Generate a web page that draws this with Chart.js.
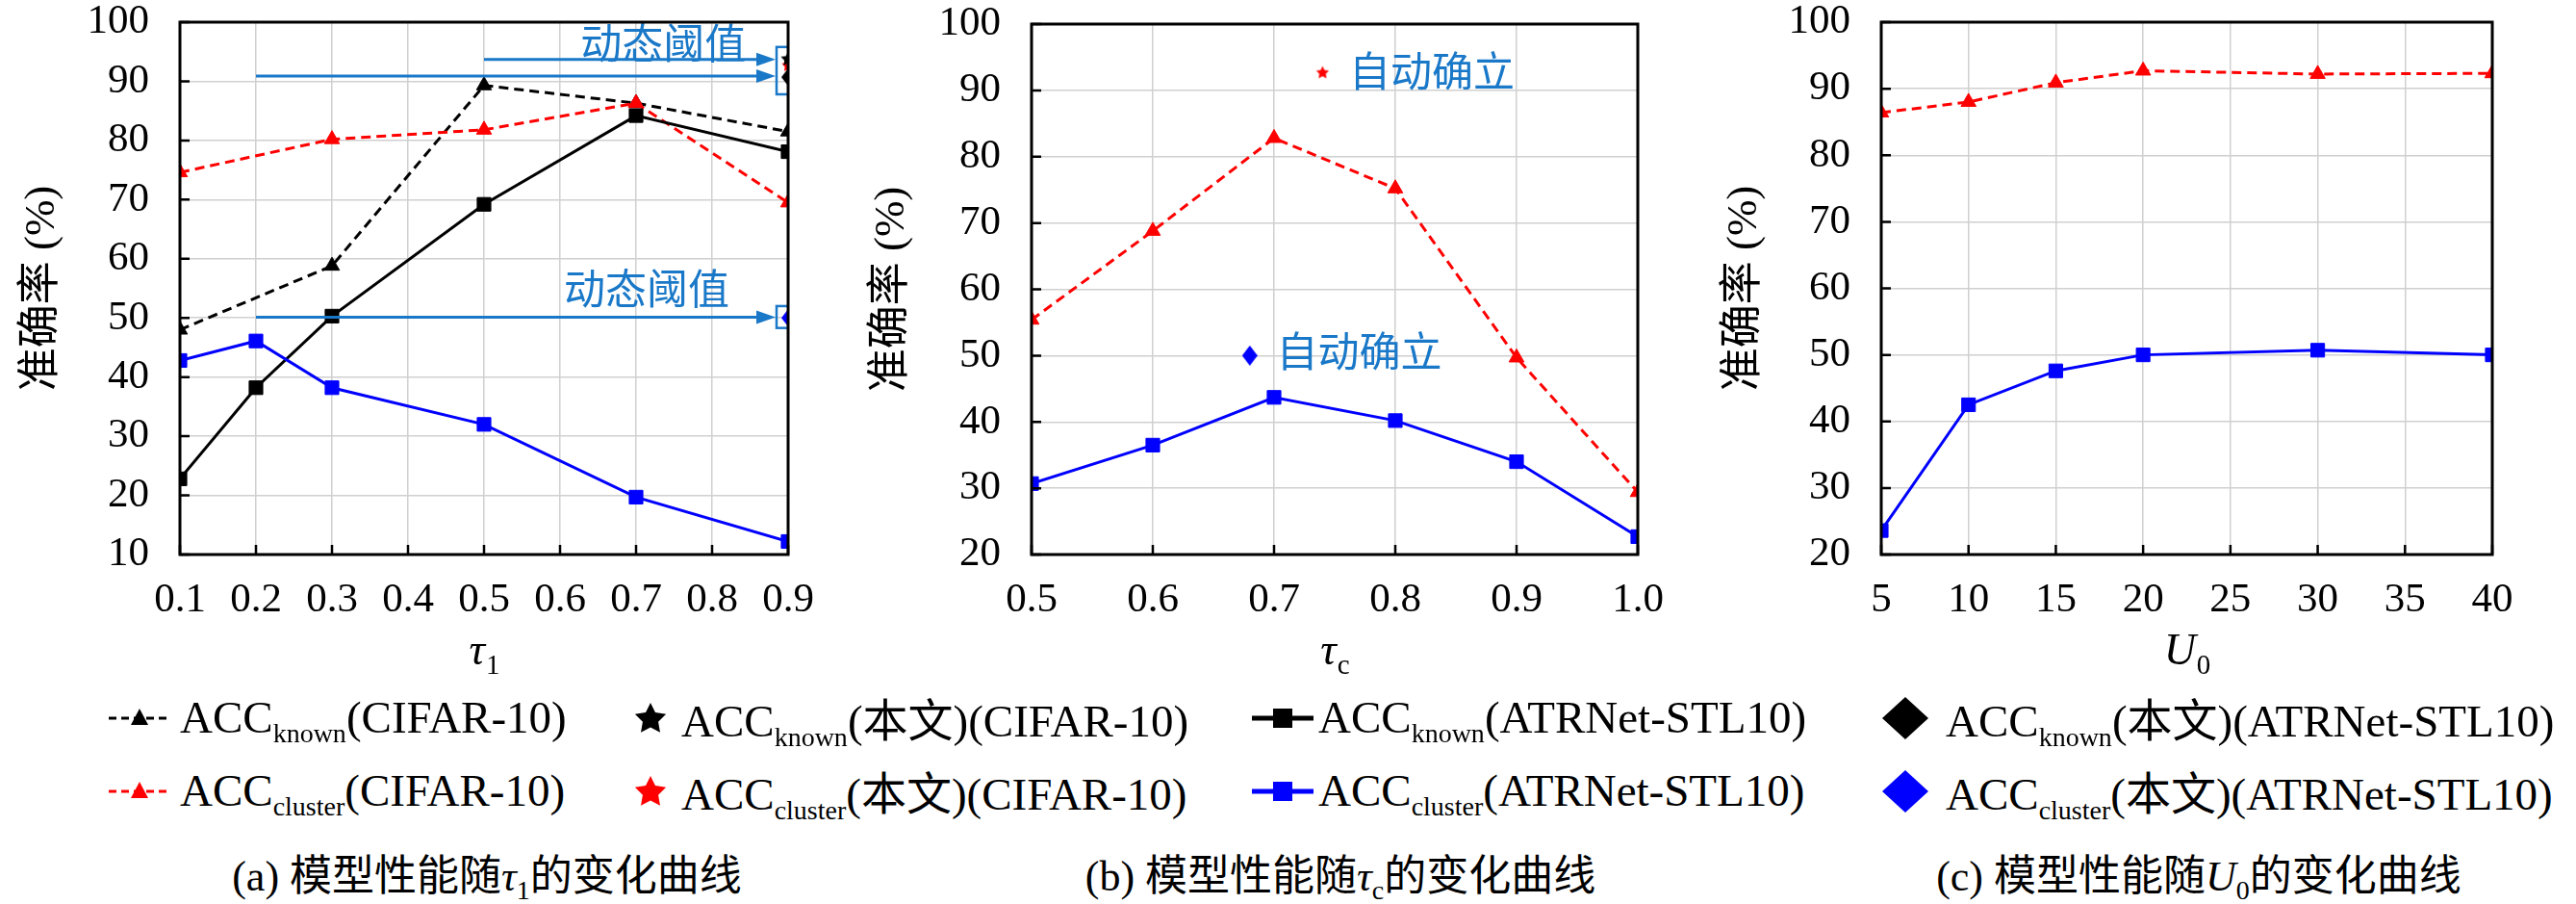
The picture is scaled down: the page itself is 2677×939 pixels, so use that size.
<!DOCTYPE html>
<html>
<head>
<meta charset="utf-8">
<script src="https://cdn.jsdelivr.net/npm/chart.js@4.4.1/dist/chart.umd.min.js"></script>
<style>
  body { margin:0; background:#fff; width:2677px; height:939px; position:relative; overflow:hidden;
         font-family:'Liberation Serif','Noto Sans CJK SC',serif; color:#000; }
  .box { position:absolute; top:0; height:720px; }
  .leg { position:absolute; font-size:47px; line-height:44px; white-space:nowrap; }
  .leg sub { font-size:28px; vertical-align:-10px; line-height:0; }
  .sym { position:absolute; }
  .cap { position:absolute; top:884px; font-size:44px; line-height:44px; white-space:nowrap; transform:translateX(-50%); }
  .cap sub { font-size:28px; vertical-align:-9px; line-height:0; }
  .cjk { font-family:'Noto Sans CJK SC',sans-serif; }
</style>
</head>
<body>
<div class="box" style="left:0;width:880px"><canvas id="chA"></canvas></div>
<div class="box" style="left:883px;width:880px"><canvas id="chB"></canvas></div>
<div class="box" style="left:1769px;width:908px"><canvas id="chC"></canvas></div>

<div id="legend"></div>

<div class="cap" style="left:506px">(a) <span class="cjk">模型性能随</span><i>τ</i><sub>1</sub><span class="cjk">的变化曲线</span></div>
<div class="cap" style="left:1393px">(b) <span class="cjk">模型性能随</span><i>τ</i><sub>c</sub><span class="cjk">的变化曲线</span></div>
<div class="cap" style="left:2285px">(c) <span class="cjk">模型性能随</span><i>U</i><sub>0</sub><span class="cjk">的变化曲线</span></div>

<script>
// ---- data (a): tau_1
var tauA = [0.1, 0.3, 0.5, 0.7, 0.9];
var tauA2 = [0.1, 0.2, 0.3, 0.5, 0.7, 0.9];
var knownCifarA = [48.0, 58.8, 89.3, 86.3, 81.5];
var clusterCifarA = [74.6, 80.2, 81.8, 86.3, 69.5];
var knownAtrA = [22.8, 38.2, 50.3, 69.2, 84.2, 78.1];
var clusterAtrA = [42.8, 46.1, 38.2, 32.0, 19.7, 12.2];
var oursKnownCifarA = [0.9, 93.9];
var oursClusterCifarA = [0.9, 92.8];
var oursKnownAtrA = [0.9, 90.7];
var oursClusterAtrA = [0.9, 50.0];
var xTicksA = [0.1, 0.2, 0.3, 0.4, 0.5, 0.6, 0.7, 0.8, 0.9];
var xLabelsA = ['0.1', '0.2', '0.3', '0.4', '0.5', '0.6', '0.7', '0.8', '0.9'];
var yTicksA = [10, 20, 30, 40, 50, 60, 70, 80, 90, 100];

// ---- data (b): tau_c
var tauC = [0.5, 0.6, 0.7, 0.8, 0.9, 1.0];
var clusterCifarB = [55.4, 68.8, 82.8, 75.2, 49.7, 29.4];
var clusterAtrB = [30.7, 36.5, 43.7, 40.2, 34.0, 22.7];
var oursClusterCifarB = [0.74, 92.8];
var oursClusterAtrB = [0.68, 50.0];
var xTicksB = [0.5, 0.6, 0.7, 0.8, 0.9, 1.0];
var xLabelsB = ['0.5', '0.6', '0.7', '0.8', '0.9', '1.0'];
var yTicksB = [20, 30, 40, 50, 60, 70, 80, 90, 100];

// ---- data (c): U_0
var u0 = [5, 10, 15, 20, 30, 40];
var clusterCifarC = [86.4, 88.0, 90.9, 92.7, 92.2, 92.3];
var clusterAtrC = [23.6, 42.5, 47.6, 50.0, 50.7, 50.0];
var xTicksC = [5, 10, 15, 20, 25, 30, 35, 40];
var xLabelsC = ['5', '10', '15', '20', '25', '30', '35', '40'];
var yTicksC = [20, 30, 40, 50, 60, 70, 80, 90, 100];

// annotations (data units)
var arrowsA = [{x0: 0.5, x1: 0.9, y: 93.7}, {x0: 0.2, x1: 0.9, y: 90.9}, {x0: 0.2, x1: 0.9, y: 50.1}];
var boxesA = [{x: 0.9, y0: 95.8, y1: 87.8}, {x: 0.9, y0: 52.0, y1: 48.3}];
var notesA = [{x: 0.627, y: 96.4, text: '动态阈值'}, {x: 0.605, y: 55.0, text: '动态阈值'}];
var notesB = [{x: 0.762, y: 92.9, text: '自动确立'}, {x: 0.702, y: 50.7, text: '自动确立'}];

var BLUE_NOTE = '#1a78c8';
var SERIF = "'Liberation Serif', serif";

function pts(xs, ys) { return xs.map(function (x, i) { return {x: x, y: ys[i]}; }); }

function starImg(r, color) {
  var c = document.createElement('canvas');
  var s = Math.ceil(r * 2 + 2);
  c.width = s; c.height = s;
  var g = c.getContext('2d');
  g.fillStyle = color;
  g.beginPath();
  for (var i = 0; i < 10; i++) {
    var rr = i % 2 ? r * 0.5 : r;
    var a = -Math.PI / 2 + i * Math.PI / 5;
    g.lineTo(s / 2 + rr * Math.cos(a), s / 2 + 1 + rr * Math.sin(a));
  }
  g.closePath(); g.fill();
  return c;
}
function diamondImg(w, h, color) {
  var c = document.createElement('canvas');
  c.width = w; c.height = h;
  var g = c.getContext('2d');
  g.fillStyle = color;
  g.beginPath();
  g.moveTo(w / 2, 0); g.lineTo(w, h / 2); g.lineTo(w / 2, h); g.lineTo(0, h / 2);
  g.closePath(); g.fill();
  return c;
}

function lineSet(label, data, color, dashed, style, r) {
  return {
    label: label, data: data, borderColor: color, backgroundColor: color,
    borderWidth: 3, borderDash: dashed ? [10, 6] : [],
    pointStyle: style, pointRadius: r, pointHoverRadius: r,
    pointBackgroundColor: color, pointBorderColor: color, pointBorderWidth: 1
  };
}
function dotSet(label, xy, img) {
  return { label: label, data: [{x: xy[0], y: xy[1]}], showLine: false,
           pointStyle: img, pointRadius: 8, pointHoverRadius: 8 };
}

// frame + inward ticks + subscript x title + annotations
var decoPlugin = {
  id: 'deco',
  afterDatasetsDraw: function (chart, args, o) {
    var ctx = chart.ctx, a = chart.chartArea, xs = chart.scales.x, ys = chart.scales.y;
    ctx.save();
    // annotations
    ctx.strokeStyle = BLUE_NOTE; ctx.fillStyle = BLUE_NOTE; ctx.lineWidth = 3;
    (o.arrows || []).forEach(function (ar) {
      var px0 = xs.getPixelForValue(ar.x0), px1 = xs.getPixelForValue(ar.x1) - 13, py = ys.getPixelForValue(ar.y);
      ctx.beginPath(); ctx.moveTo(px0, py); ctx.lineTo(px1 - 16, py); ctx.stroke();
      ctx.beginPath(); ctx.moveTo(px1, py); ctx.lineTo(px1 - 20, py - 7); ctx.lineTo(px1 - 20, py + 7); ctx.closePath(); ctx.fill();
    });
    ctx.save();
    ctx.beginPath(); ctx.rect(a.left, a.top, a.width, a.height); ctx.clip();
    ctx.lineWidth = 2.5;
    (o.boxes || []).forEach(function (b) {
      var px = xs.getPixelForValue(b.x), p0 = ys.getPixelForValue(b.y0), p1 = ys.getPixelForValue(b.y1);
      ctx.strokeRect(px - 12, p0, 24, p1 - p0);
    });
    ctx.restore();
    ctx.font = "43px 'Noto Sans CJK SC', sans-serif";
    ctx.textAlign = 'left'; ctx.textBaseline = 'middle';
    (o.notes || []).forEach(function (n) {
      ctx.fillText(n.text, xs.getPixelForValue(n.x), ys.getPixelForValue(n.y));
    });
    // ticks and frame
    ctx.strokeStyle = '#000'; ctx.lineWidth = 2.5;
    ctx.beginPath();
    xs.ticks.forEach(function (t) {
      var px = xs.getPixelForValue(t.value);
      ctx.moveTo(px, a.bottom); ctx.lineTo(px, a.bottom - 10);
    });
    ys.ticks.forEach(function (t) {
      var py = ys.getPixelForValue(t.value);
      ctx.moveTo(a.left, py); ctx.lineTo(a.left + 10, py);
    });
    ctx.stroke();
    ctx.lineWidth = 3;
    ctx.strokeRect(a.left, a.top, a.width, a.height);
    // x title with subscript
    if (o.title) {
      ctx.fillStyle = '#000'; ctx.textBaseline = 'alphabetic';
      ctx.font = 'italic 46px ' + SERIF;
      var w1 = ctx.measureText(o.title.main).width;
      ctx.font = '29px ' + SERIF;
      var w2 = ctx.measureText(o.title.sub).width;
      var x0 = (a.left + a.right) / 2 - (w1 + w2) / 2;
      ctx.font = 'italic 46px ' + SERIF;
      ctx.fillText(o.title.main, x0, 690);
      ctx.font = '29px ' + SERIF;
      ctx.fillText(o.title.sub, x0 + w1 + 1, 700);
    }
    ctx.restore();
  }
};

function makeChart(id, datasets, sx, sy, yw, padTop, padRight, deco) {
  var tickFont = {family: SERIF, size: 43};
  return new Chart(document.getElementById(id), {
    type: 'line',
    data: {datasets: datasets},
    plugins: [decoPlugin],
    options: {
      responsive: true, maintainAspectRatio: false, animation: false,
      layout: {padding: {top: padTop, right: padRight, left: 0, bottom: 0}},
      plugins: {legend: {display: false}, tooltip: {enabled: false}, deco: deco},
      scales: {
        x: {
          type: 'linear', min: sx.ticks[0], max: sx.ticks[sx.ticks.length - 1],
          afterBuildTicks: function (s) { s.ticks = sx.ticks.map(function (v) { return {value: v}; }); },
          afterFit: function (s) { s.height = 144; s.paddingLeft = 0; s.paddingRight = 0; },
          ticks: {font: tickFont, color: '#000', padding: 22, maxRotation: 0, autoSkip: false,
                  callback: function (v, i) { return sx.labels[i]; }},
          grid: {color: '#d0d0d0', lineWidth: 1.5, drawTicks: false},
          border: {display: false}
        },
        y: {
          type: 'linear', min: sy[0], max: sy[sy.length - 1],
          afterBuildTicks: function (s) { s.ticks = sy.map(function (v) { return {value: v}; }); },
          afterFit: function (s) { s.width = yw; s.paddingTop = 0; s.paddingBottom = 0; },
          ticks: {font: tickFont, color: '#000', padding: 32, autoSkip: false,
                  callback: function (v) { return String(v); }},
          grid: {color: '#d0d0d0', lineWidth: 1.5, drawTicks: false},
          border: {display: false},
          title: {display: true, text: '准确率 (%)', color: '#000',
                  font: {family: "'Liberation Serif','Noto Sans CJK SC'", size: 45}, padding: {top: 17}}
        }
      }
    }
  });
}

makeChart('chA', [
  dotSet('ACC_known(本文)(CIFAR-10)', oursKnownCifarA, starImg(8, '#000')),
  dotSet('ACC_cluster(本文)(CIFAR-10)', oursClusterCifarA, starImg(7, '#ff0000')),
  dotSet('ACC_known(本文)(ATRNet-STL10)', oursKnownAtrA, diamondImg(14, 18, '#000')),
  dotSet('ACC_cluster(本文)(ATRNet-STL10)', oursClusterAtrA, diamondImg(14, 18, '#0000ff')),
  lineSet('ACC_cluster(ATRNet-STL10)', pts(tauA2, clusterAtrA), '#0000ff', false, 'rect', 10),
  lineSet('ACC_known(ATRNet-STL10)', pts(tauA2, knownAtrA), '#000', false, 'rect', 10),
  lineSet('ACC_cluster(CIFAR-10)', pts(tauA, clusterCifarA), '#ff0000', true, 'triangle', 9),
  lineSet('ACC_known(CIFAR-10)', pts(tauA, knownCifarA), '#000', true, 'triangle', 9)
], {ticks: xTicksA, labels: xLabelsA}, yTicksA, 187, 23, 61,
  {arrows: arrowsA, boxes: boxesA, notes: notesA, title: {main: 'τ', sub: '1'}});

makeChart('chB', [
  dotSet('ACC_cluster(本文)(CIFAR-10)', oursClusterCifarB, starImg(7, '#ff0000')),
  dotSet('ACC_cluster(本文)(ATRNet-STL10)', oursClusterAtrB, diamondImg(16, 21, '#0000ff')),
  lineSet('ACC_cluster(ATRNet-STL10)', pts(tauC, clusterAtrB), '#0000ff', false, 'rect', 10),
  lineSet('ACC_cluster(CIFAR-10)', pts(tauC, clusterCifarB), '#ff0000', true, 'triangle', 9)
], {ticks: xTicksB, labels: xLabelsB}, yTicksB, 189, 25, 61,
  {notes: notesB, title: {main: 'τ', sub: 'c'}});

makeChart('chC', [
  lineSet('ACC_cluster(ATRNet-STL10)', pts(u0, clusterAtrC), '#0000ff', false, 'rect', 10),
  lineSet('ACC_cluster(CIFAR-10)', pts(u0, clusterCifarC), '#ff0000', true, 'triangle', 9)
], {ticks: xTicksC, labels: xLabelsC}, yTicksC, 186, 23, 87,
  {title: {main: 'U', sub: '0'}});

// ---- legend (HTML text, canvas symbols)
var legendCols = [
  {sym: 145, text: 187}, {sym: 676, text: 708}, {sym: 1333, text: 1370}, {sym: 1980, text: 2022}
];
var legendRows = [{mid: 746, top: 723, sub: 'known'},
                  {mid: 822, top: 799, sub: 'cluster'}];
var legendTails = ['(CIFAR-10)', '(<span class="cjk">本文</span>)(CIFAR-10)',
                   '(ATRNet-STL10)', '(<span class="cjk">本文</span>)(ATRNet-STL10)'];

function legendSymbol(col, color) {
  var c = document.createElement('canvas');
  var g = c.getContext('2d');
  if (col === 0 || col === 2) {
    c.width = 64; c.height = 26;
    g.strokeStyle = color; g.fillStyle = color;
    g.lineWidth = col === 0 ? 3 : 5;
    g.setLineDash(col === 0 ? [8, 5] : []);
    g.beginPath(); g.moveTo(0, 13); g.lineTo(64, 13); g.stroke();
    g.beginPath();
    if (col === 0) { g.moveTo(32, 3); g.lineTo(41, 20); g.lineTo(23, 20); g.closePath(); }
    else { g.rect(22, 3, 20, 20); }
    g.fill();
    return c;
  }
  return col === 1 ? starImg(17, color) : diamondImg(48, 44, color);
}

var legendBox = document.getElementById('legend');
legendRows.forEach(function (row, r) {
  legendCols.forEach(function (col, k) {
    var color = r === 0 ? '#000' : (k < 2 ? '#ff0000' : '#0000ff');
    var sym = legendSymbol(k, color);
    sym.className = 'sym';
    sym.style.left = (col.sym - sym.width / 2) + 'px';
    sym.style.top = (row.mid - sym.height / 2) + 'px';
    legendBox.appendChild(sym);
    var t = document.createElement('div');
    t.className = 'leg';
    t.style.left = col.text + 'px';
    t.style.top = row.top + 'px';
    t.innerHTML = 'ACC<sub>' + row.sub + '</sub>' + legendTails[k];
    legendBox.appendChild(t);
  });
});
</script>
</body>
</html>
